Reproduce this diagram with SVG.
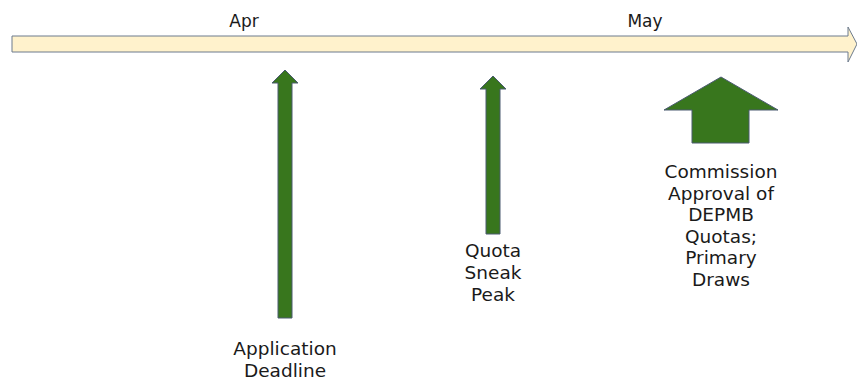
<svg xmlns="http://www.w3.org/2000/svg" width="857" height="381" viewBox="0 0 857 381">
<style>
.lbl{font-family:"DejaVu Sans",sans-serif;font-size:18.5px;fill:#1a1a1a;text-anchor:middle}
.mon{font-family:"DejaVu Sans",sans-serif;font-size:17px;fill:#1a1a1a;text-anchor:middle}
.arr{fill:#38761d;stroke:#4a5a70;stroke-width:1}
.tl{fill:#fff2cc;stroke:#6d7b8d;stroke-width:1}
</style>
<g id="timeline">
<polygon class="tl" points="12,36 848,36 848,27 857,44 848,62 848,52 12,52"/>
<text class="mon" x="244" y="27">Apr</text>
<text class="mon" x="645" y="27">May</text>
</g>
<g id="connectors">
<polygon id="arrow-app" class="arr" points="285,70 298,83 292,83 292,318 278,318 278,83 272,83"/>
<polygon id="arrow-quota" class="arr" points="493,76 506,89 500,89 500,234 486,234 486,89 480,89"/>
<polygon id="arrow-comm" class="arr" points="721,77 778,110 749,110 749,143 692,143 692,110 664,110"/>
</g>
<g id="node-application">
<text class="lbl" x="285" y="355">Application</text>
<text class="lbl" x="285" y="377">Deadline</text>
</g>
<g id="node-quota">
<text class="lbl" x="493" y="257">Quota</text>
<text class="lbl" x="493" y="279">Sneak</text>
<text class="lbl" x="493" y="301">Peak</text>
</g>
<g id="node-commission">
<text class="lbl" x="721" y="178">Commission</text>
<text class="lbl" x="721" y="199.5">Approval of</text>
<text class="lbl" x="721" y="221">DEPMB</text>
<text class="lbl" x="721" y="242.5">Quotas;</text>
<text class="lbl" x="721" y="264">Primary</text>
<text class="lbl" x="721" y="285.5">Draws</text>
</g>
</svg>
